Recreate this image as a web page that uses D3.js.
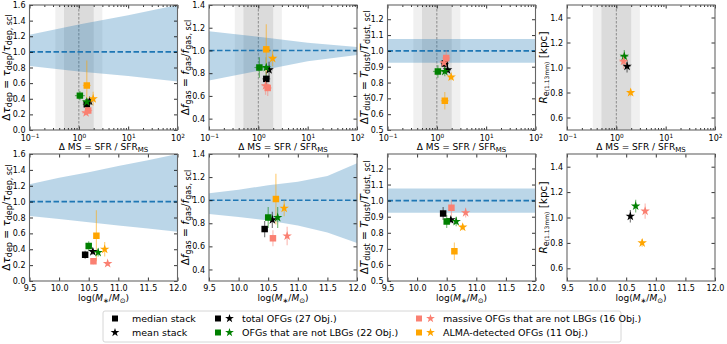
<!DOCTYPE html>
<html>
<head>
<meta charset="utf-8">
<script src="https://cdn.jsdelivr.net/npm/d3@7"></script>
<style>
body { margin: 0; background: #fff; }
text { font-family: "DejaVu Sans", sans-serif; fill: #000; }
</style>
</head>
<body>
<svg id="chart" width="727" height="344"></svg>
<script>
// groups: total, not-LBG, massive not-LBG, ALMA-detected
const groupNames = ['total OFGs (27 Obj.)', 'OFGs that are not LBGs (22 Obj.)', 'massive OFGs that are not LBGs (16 Obj.)', 'ALMA-detected OFGs (11 Obj.)'];
const groupColors = ['#000000', '#008000', '#fa8072', '#ffa500'];

// x values
const msMedian = [1.45, 1.05, 1.55, 1.45];
const msMean = [1.65, 1.45, 1.4, 1.95];
const msMedianErr = [0.08, 0.1, 0.08, 0.08];   // dex
const msMeanErr = [0.07, 0.08, 0.08, 0.06];
const massMedian = [10.44, 10.50, 10.58, 10.63];
const massMean = [10.57, 10.66, 10.82, 10.77];

// y values
const tdepMedian = [0.33, 0.44, 0.25, 0.57];
const tdepMean = [0.37, 0.36, 0.22, 0.40];
const tdepMedianErr = [0.05, 0.06, 0.04, 0.32];
const tdepMeanErr = [0.04, 0.05, 0.03, 0.09];
const fgasMedian = [0.75, 0.85, 0.67, 1.01];
const fgasMean = [0.83, 0.85, 0.69, 0.93];
const fgasMedianErr = [0.07, 0.09, 0.07, 0.22];
const fgasMeanErr = [0.07, 0.09, 0.08, 0.07];
const tdustMedian = [0.92, 0.87, 0.955, 0.685];
const tdustMean = [0.88, 0.87, 0.925, 0.835];
const tdustMedianErr = [0.04, 0.04, 0.05, 0.055];
const tdustMeanErr = [0.02, 0.03, 0.03, 0.02];
const reMean = [1.01, 1.09, 1.05, 0.80];
const reMeanErr = [0.05, 0.05, 0.06, 0.03];

// scaling-relation bands
const bandMsX = [0.1, 1, 10, 100];
const bandMassX = [9.5, 10, 10.5, 11, 11.5, 12];
const tdepBandMsLow = [0.82, 0.75, 0.69, 0.62];
const tdepBandMsHigh = [1.22, 1.35, 1.47, 1.6];
const tdepBandMassLow = [0.82, 0.78, 0.74, 0.70, 0.66, 0.62];
const tdepBandMassHigh = [1.22, 1.30, 1.37, 1.45, 1.52, 1.6];
const fgasBandMsLow = [0.735, 0.82, 0.905, 0.96];
const fgasBandMsHigh = [1.17, 1.12, 1.068, 1.03];
const fgasBandMassLow = [0.88, 0.855, 0.825, 0.78, 0.72, 0.63];
const fgasBandMassHigh = [1.06, 1.09, 1.13, 1.16, 1.21, 1.32];
const tdustBandLow = [0.925, 0.925];
const tdustBandHigh = [1.075, 1.075];

// ticks
const msTicks = [0.1, 1, 10, 100];
const msTickExp = ['\u22121', '0', '1', '2'];
const massTicks = [9.5, 10, 10.5, 11, 11.5, 12];
const tdepTicks = [0, 0.2, 0.4, 0.6, 0.8, 1.0, 1.2, 1.4, 1.6];
const fgasTicks = [0.4, 0.6, 0.8, 1.0, 1.2, 1.4];
const tdustTicks = [0.5, 0.6, 0.7, 0.8, 0.9, 1.0, 1.1, 1.2];
const reTicks = [0.6, 0.8, 1.0, 1.2, 1.4];

const svg = d3.select('#chart');
const pw = 148;
const panelLeft = [29.5, 209, 387.5, 567];
const rows = [{top: 5, h: 125, kind: 'ms'}, {top: 154, h: 127, kind: 'mass'}];

const panels = [
    {y: [0, 1.6], ticks: tdepTicks, med: tdepMedian, medErr: tdepMedianErr, mean: tdepMean, meanErr: tdepMeanErr,
     band: {ms: [tdepBandMsLow, tdepBandMsHigh], mass: [tdepBandMassLow, tdepBandMassHigh]},
     label: [['\u0394', ''], ['\u03c4', 'i'], ['dep', 'sub'], [' = ', ''], ['\u03c4', 'i'], ['dep', 'sub'], ['/', ''], ['\u03c4', 'i'], ['dep, scl', 'sub']]},
    {y: [0.3, 1.4], ticks: fgasTicks, med: fgasMedian, medErr: fgasMedianErr, mean: fgasMean, meanErr: fgasMeanErr,
     band: {ms: [fgasBandMsLow, fgasBandMsHigh], mass: [fgasBandMassLow, fgasBandMassHigh]},
     label: [['\u0394', ''], ['f', 'i'], ['gas', 'sub'], [' = ', ''], ['f', 'i'], ['gas', 'sub'], ['/', ''], ['f', 'i'], ['gas, scl', 'sub']]},
    {y: [0.5, 1.29], ticks: tdustTicks, med: tdustMedian, medErr: tdustMedianErr, mean: tdustMean, meanErr: tdustMeanErr,
     band: {ms: [tdustBandLow, tdustBandHigh], mass: [tdustBandLow, tdustBandHigh]},
     label: [['\u0394', ''], ['T', 'i'], ['dust', 'sub'], [' = ', ''], ['T', 'i'], ['dust', 'sub'], ['/', ''], ['T', 'i'], ['dust, scl', 'sub']]},
    {y: [0.5, 1.5], ticks: reTicks, med: null, mean: reMean, meanErr: reMeanErr, band: null,
     label: [['R', 'i'], ['e', 'sub'], ['(1.13mm)', 'sub2'], [' [kpc]', '']]}
];

const squarePath = d3.symbol().type(d3.symbolSquare).size(42)();
const starPath = d3.symbol().type(d3.symbolStar).size(28)();
const squareLegend = d3.symbol().type(d3.symbolSquare).size(36)();
const starLegend = d3.symbol().type(d3.symbolStar).size(24)();

function addRich(text, parts, subSize, sub2Size) {
    parts.forEach(([s, st]) => {
        const t = text.append('tspan').text(s);
        if (st === 'i') t.attr('font-style', 'italic');
        if (st === 'sub') t.attr('font-size', subSize).attr('baseline-shift', '-25%');
        if (st === 'sub2') t.attr('font-size', sub2Size).attr('baseline-shift', '-30%');
    });
}

rows.forEach((row, ri) => {
    panels.forEach((p, pi) => {
        const g = svg.append('g').attr('transform', `translate(${panelLeft[pi]},${row.top})`);
        const x = row.kind === 'ms'
            ? d3.scaleLog().domain([0.1, 100]).range([0, pw])
            : d3.scaleLinear().domain([9.5, 12]).range([0, pw]);
        const y = d3.scaleLinear().domain(p.y).range([row.h, 0]);
        const clipId = `clip${ri}${pi}`;
        g.append('clipPath').attr('id', clipId).append('rect').attr('width', pw).attr('height', row.h);
        const plot = g.append('g').attr('clip-path', `url(#${clipId})`);

        if (row.kind === 'ms') {
            plot.append('rect').attr('x', x(1 / 3)).attr('width', x(3) - x(1 / 3)).attr('height', row.h)
                .attr('fill', '#000').attr('opacity', 0.06);
            plot.append('rect').attr('x', x(0.5)).attr('width', x(2) - x(0.5)).attr('height', row.h)
                .attr('fill', '#000').attr('opacity', 0.085);
            plot.append('line').attr('x1', x(1)).attr('x2', x(1)).attr('y1', 0).attr('y2', row.h)
                .attr('stroke', '#777').attr('stroke-width', 0.8).attr('stroke-dasharray', '2.5,1.5');
        }

        if (p.band) {
            const [lo, hi] = p.band[row.kind];
            const xs = lo.length === 2 ? x.domain() : (row.kind === 'ms' ? bandMsX : bandMassX);
            const area = d3.area().x((d, i) => x(xs[i])).y0((d, i) => y(lo[i])).y1((d, i) => y(hi[i]));
            plot.append('path').datum(lo).attr('d', area).attr('fill', '#1f77b4').attr('opacity', 0.3);
            plot.append('line').attr('x1', 0).attr('x2', pw).attr('y1', y(1)).attr('y2', y(1))
                .attr('stroke', '#1f77b4').attr('stroke-width', 1.6).attr('stroke-dasharray', '5.5,2.5');
        }

        const pts = [];
        groupColors.forEach((c, i) => {
            if (p.med) pts.push({shape: squarePath, c, xv: row.kind === 'ms' ? msMedian[i] : massMedian[i],
                xe: row.kind === 'ms' ? msMedianErr[i] : 0, yv: p.med[i], ye: p.medErr[i]});
            pts.push({shape: starPath, c, xv: row.kind === 'ms' ? msMean[i] : massMean[i],
                xe: row.kind === 'ms' ? msMeanErr[i] : 0, yv: p.mean[i], ye: p.meanErr[i]});
        });

        const eb = plot.append('g').attr('stroke-width', 1.2).attr('opacity', 0.5);
        pts.forEach(d => {
            eb.append('line').attr('stroke', d.c)
                .attr('x1', x(d.xv)).attr('x2', x(d.xv)).attr('y1', y(d.yv - d.ye)).attr('y2', y(d.yv + d.ye));
            if (d.xe) eb.append('line').attr('stroke', d.c)
                .attr('x1', x(d.xv / Math.pow(10, d.xe))).attr('x2', x(d.xv * Math.pow(10, d.xe)))
                .attr('y1', y(d.yv)).attr('y2', y(d.yv));
        });
        plot.selectAll('.mk').data(pts).enter().append('path')
            .attr('transform', d => `translate(${x(d.xv)},${y(d.yv)})`)
            .attr('d', d => d.shape).attr('fill', d => d.c);

        // axes with inward ticks
        const tk = 3.5;
        const fs = '8px';
        const xb = row.kind === 'ms' ? d3.axisBottom(x).tickValues(msTicks) : d3.axisBottom(x).tickValues(massTicks);
        const xAx = g.append('g').attr('transform', `translate(0,${row.h})`)
            .call(xb.tickSize(-tk).tickPadding(row.kind === 'ms' ? 5 : 4).tickFormat(row.kind === 'ms' ? '' : d3.format('.1f')));
        g.append('g').call((row.kind === 'ms' ? d3.axisTop(x).tickValues(msTicks) : d3.axisTop(x).tickValues(massTicks))
            .tickSize(-tk).tickFormat(''));
        if (row.kind === 'ms') {
            xAx.selectAll('.tick text').each(function(d, i) {
                const t = d3.select(this);
                t.append('tspan').text('10');
                t.append('tspan').text(msTickExp[i]).attr('font-size', '5.8px').attr('dy', '-0.45em');
            });
            const minor = [];
            [0.1, 1, 10].forEach(b => d3.range(2, 10).forEach(k => minor.push(b * k)));
            g.append('g').attr('transform', `translate(0,${row.h})`)
                .call(d3.axisBottom(x).tickValues(minor).tickSize(-2).tickFormat(''));
            g.append('g').call(d3.axisTop(x).tickValues(minor).tickSize(-2).tickFormat(''));
        }
        g.append('g').call(d3.axisLeft(y).tickValues(p.ticks).tickSize(-tk).tickPadding(4).tickFormat(d3.format('.1f')));
        g.append('g').attr('transform', `translate(${pw},0)`)
            .call(d3.axisRight(y).tickValues(p.ticks).tickSize(-tk).tickFormat(''));
        g.selectAll('.domain').remove();
        g.selectAll('.tick text').attr('font-size', fs).attr('font-family', 'DejaVu Sans').attr('fill', '#000');
        g.selectAll('.tick line').attr('stroke', '#000').attr('stroke-width', 0.8);

        g.append('rect').attr('width', pw).attr('height', row.h)
            .attr('fill', 'none').attr('stroke', '#666').attr('stroke-width', 1.1);

        // axis labels
        const xl = g.append('text').attr('x', pw / 2).attr('y', row.h + 20).attr('text-anchor', 'middle').attr('font-size', '9px');
        if (row.kind === 'ms') addRich(xl, [['\u0394 MS = SFR / SFR', ''], ['MS', 'sub']], '7px');
        else addRich(xl, [['log(', ''], ['M', 'i'], ['\u2217', 'sub'], ['/', ''], ['M', 'i'], ['\u2299', 'sub'], [')', '']], '7px');

        const yl = g.append('text').attr('transform', `translate(${pi === 3 ? -20.5 : -20},${row.h / 2}) rotate(-90)`)
            .attr('text-anchor', 'middle').attr('font-size', '10.5px');
        addRich(yl, p.label, '8px', '6px');
    });
});

// legend
const lg = svg.append('g').attr('transform', 'translate(103,311)');
lg.append('rect').attr('width', 518).attr('height', 31).attr('rx', 2)
    .attr('fill', '#fff').attr('stroke', '#ccc').attr('stroke-width', 0.8);
const rowY = [7.5, 21.5];
lg.append('path').attr('transform', `translate(12,${rowY[0]})`).attr('d', squareLegend).attr('fill', '#000');
lg.append('path').attr('transform', `translate(12,${rowY[1]})`).attr('d', starLegend).attr('fill', '#000');
lg.append('text').attr('x', 29).attr('y', rowY[0]).attr('dy', '0.35em').attr('font-size', '9.5px').text('median stack');
lg.append('text').attr('x', 29).attr('y', rowY[1]).attr('dy', '0.35em').attr('font-size', '9.5px').text('mean stack');
const colX = [115, 316];
groupNames.forEach((name, i) => {
    const cx = colX[Math.floor(i / 2)];
    const cy = rowY[i % 2];
    lg.append('path').attr('transform', `translate(${cx},${cy})`).attr('d', squareLegend).attr('fill', groupColors[i]);
    lg.append('path').attr('transform', `translate(${cx + 11.5},${cy})`).attr('d', starLegend).attr('fill', groupColors[i]);
    lg.append('text').attr('x', cx + 24).attr('y', cy).attr('dy', '0.35em').attr('font-size', '9.5px').text(name);
});
</script>
</body>
</html>
